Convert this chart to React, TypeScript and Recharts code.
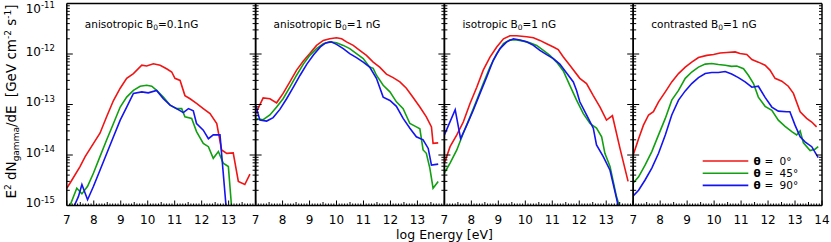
import { LineChart, Line, XAxis, YAxis, Legend } from "recharts";

type Pair = [number, number];

const W = 831;
const H = 242;
const PLOT_TOP = 3.5;
const PLOT_BOTTOM = 205.5;
const PANEL_W = 188.8;
const panelLeft = [66.8, 255.6, 444.4, 633.2];
const AX = 1; // axis box thickness
const FONT = "'DejaVu Sans', Verdana, sans-serif";

const panelTitles = ["anisotropic", "anisotropic", "isotropic", "contrasted"];
const panelB0 = ["0.1nG", "1 nG", "1 nG", "1 nG"];
const angleLabels = ["0", "45", "90"];
const lineColors = ["#f01414", "#12a012", "#1414f0"];

const xMajorTicks = [7, 8, 9, 10, 11, 12, 13, 14];
const yMajorTicks = [1e-15, 1e-14, 1e-13, 1e-12, 1e-11];
const yTickExponents = ["-15", "-14", "-13", "-12", "-11"];

// anisotropic B0 = 0.1 nG
const anisoLowRed: Pair[] = [
  [7.0, 2.2e-15], [7.19, 3.2e-15], [7.49, 5.9e-15], [7.68, 9.3e-15], [7.99, 1.7e-14], [8.23, 2.7e-14],
  [8.48, 5.8e-14], [8.73, 1.2e-13], [8.98, 2.1e-13], [9.22, 3.3e-13], [9.47, 4.1e-13], [9.78, 6.0e-13],
  [9.96, 5.8e-13], [10.21, 6.4e-13], [10.46, 6.0e-13], [10.7, 5.1e-13], [10.89, 4.4e-13], [11.01, 3.3e-13],
  [11.2, 3.0e-13], [11.38, 1.5e-13], [11.57, 1.3e-13], [11.81, 1.05e-13], [12.06, 8.3e-14], [12.31, 6.6e-14],
  [12.56, 4.2e-14], [12.74, 1.26e-14], [12.93, 1.08e-14], [13.17, 1.1e-14], [13.36, 3.0e-15], [13.6, 2.6e-15],
  [13.79, 4.2e-15],
];
const anisoLowGreen: Pair[] = [
  [7.05, 6e-16], [7.12, 1.0e-15], [7.37, 2.2e-15], [7.56, 1.7e-15], [7.77, 2.4e-15], [7.99, 4.4e-15],
  [8.23, 9.3e-15], [8.48, 2.0e-14], [8.73, 4.2e-14], [8.98, 8.9e-14], [9.22, 1.4e-13], [9.47, 1.9e-13],
  [9.72, 2.3e-13], [9.96, 2.4e-13], [10.15, 2.3e-13], [10.33, 1.9e-13], [10.58, 1.4e-13], [10.83, 9.7e-14],
  [11.07, 8.3e-14], [11.26, 8.3e-14], [11.38, 5.7e-14], [11.63, 5.3e-14], [11.81, 2.9e-14], [12.06, 1.7e-14],
  [12.25, 1.46e-14], [12.43, 8.6e-15], [12.62, 1.17e-14], [12.8, 6.9e-15], [12.99, 5.9e-15], [13.15, 5e-16],
];
const anisoLowBlue: Pair[] = [
  [7.2, 8e-16], [7.43, 1.5e-15], [7.56, 2.6e-15], [7.77, 1.3e-15], [7.99, 2.4e-15], [8.23, 5.0e-15],
  [8.48, 1.07e-14], [8.73, 2.3e-14], [8.98, 4.9e-14], [9.22, 8.9e-14], [9.47, 1.66e-13], [9.78, 1.78e-13],
  [10.02, 1.7e-13], [10.33, 1.9e-13], [10.58, 1.3e-13], [10.83, 9.7e-14], [11.07, 8.3e-14], [11.32, 6.9e-14],
  [11.51, 8.3e-14], [11.69, 7.5e-14], [11.81, 4.2e-14], [12.06, 3.1e-14], [12.25, 2.1e-14], [12.43, 2.5e-14],
  [12.68, 2.5e-14], [12.95, 5e-16],
];

// anisotropic B0 = 1 nG
const anisoRed: Pair[] = [
  [7.0, 6.6e-14], [7.28, 1.35e-13], [7.53, 1.3e-13], [7.78, 1.08e-13], [8.02, 1.66e-13], [8.27, 2.8e-13],
  [8.52, 4.8e-13], [8.77, 7.3e-13], [9.01, 1.02e-12], [9.26, 1.48e-12], [9.51, 1.86e-12], [9.75, 2.0e-12],
  [10.0, 2.09e-12], [10.19, 2.0e-12], [10.37, 1.74e-12], [10.62, 1.48e-12], [10.86, 1.18e-12], [11.11, 9.4e-13],
  [11.36, 6.9e-13], [11.6, 5.5e-13], [11.85, 4.0e-13], [12.1, 3.4e-13], [12.35, 2.8e-13], [12.59, 2.1e-13],
  [12.84, 1.38e-13], [13.09, 8.9e-14], [13.33, 5.7e-14], [13.52, 3.6e-14], [13.58, 1.7e-14], [13.77, 1.74e-14],
];
const anisoGreen: Pair[] = [
  [7.0, 5.3e-14], [7.28, 5.0e-14], [7.53, 6.2e-14], [7.78, 8.9e-14], [8.02, 1.3e-13], [8.27, 2.2e-13],
  [8.52, 3.8e-13], [8.77, 6.3e-13], [9.01, 9.4e-13], [9.26, 1.28e-12], [9.51, 1.6e-12], [9.75, 1.74e-12],
  [10.0, 1.67e-12], [10.25, 1.48e-12], [10.49, 1.28e-12], [10.74, 1.02e-12], [10.99, 8.1e-13], [11.23, 5.5e-13],
  [11.36, 5.2e-13], [11.48, 3.8e-13], [11.73, 2.4e-13], [11.98, 1.78e-13], [12.22, 1.13e-13], [12.47, 8.3e-14],
  [12.72, 4.2e-14], [12.96, 3.6e-14], [13.09, 3.3e-14], [13.21, 1.26e-14], [13.33, 1.08e-14], [13.46, 5.5e-15],
  [13.58, 2.2e-15], [13.77, 3.0e-15],
];
const anisoBlue: Pair[] = [
  [7.0, 9.7e-14], [7.16, 4.9e-14], [7.41, 4.7e-14], [7.65, 5.5e-14], [7.9, 8.0e-14], [8.15, 1.3e-13],
  [8.4, 2.2e-13], [8.65, 3.8e-13], [8.9, 6.3e-13], [9.15, 9.7e-13], [9.4, 1.38e-12], [9.6, 1.66e-12],
  [9.8, 1.74e-12], [10.0, 1.55e-12], [10.25, 1.28e-12], [10.49, 1.02e-12], [10.74, 8.5e-13], [10.99, 6.9e-13],
  [11.23, 5.5e-13], [11.48, 3.3e-13], [11.73, 1.4e-13], [11.98, 1.2e-13], [12.22, 9.2e-14], [12.47, 5.3e-14],
  [12.72, 3.4e-14], [12.96, 2.3e-14], [13.21, 2.0e-14], [13.4, 1.35e-14], [13.52, 6.3e-15], [13.77, 6.6e-15],
];

// isotropic B0 = 1 nG
const isoRed: Pair[] = [
  [7.0, 6.9e-15], [7.21, 1.46e-14], [7.46, 2.5e-14], [7.7, 4.5e-14], [7.95, 1.05e-13], [8.2, 2.2e-13],
  [8.44, 4.8e-13], [8.69, 8.7e-13], [8.94, 1.38e-12], [9.19, 2.0e-12], [9.43, 2.3e-12], [9.68, 2.3e-12],
  [10.05, 2.2e-12], [10.3, 2.1e-12], [10.54, 1.86e-12], [10.79, 1.6e-12], [11.04, 1.38e-12], [11.22, 1.22e-12],
  [11.41, 8.7e-13], [11.65, 6.0e-13], [12.02, 3.3e-13], [12.27, 2.6e-13], [12.52, 1.5e-13], [12.77, 8.9e-14],
  [13.01, 4.9e-14], [13.23, 6.0e-14], [13.51, 1.35e-14], [13.81, 3.0e-15],
];
const isoGreen: Pair[] = [
  [7.0, 4.4e-15], [7.21, 6.9e-15], [7.46, 1.26e-14], [7.7, 2.7e-14], [7.95, 5.7e-14], [8.2, 1.22e-13],
  [8.44, 2.6e-13], [8.69, 5.5e-13], [8.94, 1.02e-12], [9.19, 1.6e-12], [9.43, 1.9e-12], [9.68, 1.9e-12],
  [9.93, 1.8e-12], [10.17, 1.66e-12], [10.42, 1.48e-12], [10.67, 1.18e-12], [10.91, 9.4e-13], [11.16, 6.9e-13],
  [11.41, 4.6e-13], [11.65, 2.4e-13], [11.9, 1.22e-13], [12.15, 6.6e-14], [12.4, 4.2e-14], [12.64, 3.4e-14],
  [12.83, 2.3e-14], [12.95, 1.08e-14], [13.14, 5.9e-15], [13.38, 1.5e-15], [13.57, 7e-16],
];
const isoBlue: Pair[] = [
  [7.0, 2.5e-14], [7.4, 7.9e-14], [7.6, 2.1e-14], [7.83, 3.9e-14], [8.07, 7.7e-14], [8.32, 1.66e-13],
  [8.57, 3.5e-13], [8.81, 7.5e-13], [9.06, 1.28e-12], [9.31, 1.74e-12], [9.56, 2.0e-12], [9.8, 1.9e-12],
  [10.05, 1.74e-12], [10.3, 1.48e-12], [10.54, 1.18e-12], [10.79, 9.7e-13], [11.04, 8.1e-13], [11.28, 6.3e-13],
  [11.53, 4.2e-13], [11.78, 2.8e-13], [11.9, 1.9e-13], [12.02, 1.13e-13], [12.27, 6.2e-14], [12.52, 3.4e-14],
  [12.64, 1.58e-14], [12.89, 9.3e-15], [13.14, 5.0e-15], [13.38, 1.4e-15], [13.5, 7e-16],
];

// contrasted B0 = 1 nG
const contrRed: Pair[] = [
  [7.0, 1.0e-14], [7.2, 2.1e-14], [7.38, 3.9e-14], [7.57, 6.2e-14], [7.75, 7.2e-14], [7.94, 1.13e-13],
  [8.19, 1.78e-13], [8.43, 2.8e-13], [8.68, 4.1e-13], [8.93, 5.5e-13], [9.17, 6.9e-13], [9.42, 8.5e-13],
  [9.73, 9.4e-13], [9.98, 9.8e-13], [10.22, 1.05e-12], [10.47, 1.07e-12], [10.78, 1.1e-12], [10.96, 1.02e-12],
  [11.21, 9.8e-13], [11.4, 7.8e-13], [11.64, 6.9e-13], [11.89, 6.0e-13], [12.07, 4.8e-13], [12.26, 3.3e-13],
  [12.51, 2.9e-13], [12.75, 2.3e-13], [12.94, 1.66e-13], [13.19, 7.2e-14], [13.43, 5.3e-14], [13.62, 4.5e-14],
  [13.8, 3.6e-14],
];
const contrGreen: Pair[] = [
  [7.0, 2.8e-15], [7.2, 3.7e-15], [7.44, 6.3e-15], [7.69, 1.17e-14], [7.94, 2.5e-14], [8.19, 5.3e-14],
  [8.43, 1.22e-13], [8.68, 1.9e-13], [8.93, 3.3e-13], [9.17, 4.4e-13], [9.42, 5.5e-13], [9.67, 6.3e-13],
  [9.91, 6.5e-13], [10.16, 6.2e-13], [10.41, 6.0e-13], [10.65, 5.7e-13], [10.84, 5.8e-13], [11.09, 5.1e-13],
  [11.27, 3.8e-13], [11.46, 2.6e-13], [11.64, 1.4e-13], [11.89, 9.2e-14], [12.14, 7.7e-14], [12.38, 4.9e-14],
  [12.63, 3.7e-14], [12.88, 2.9e-14], [13.06, 2.5e-14], [13.19, 3.0e-14], [13.31, 1.74e-14], [13.56, 1.22e-14],
  [13.74, 1.3e-14], [13.86, 1.46e-14],
];
const contrBlue: Pair[] = [
  [7.0, 1.55e-15], [7.2, 2.0e-15], [7.44, 3.2e-15], [7.69, 5.5e-15], [7.94, 1.08e-14], [8.19, 2.5e-14],
  [8.43, 6.2e-14], [8.68, 1.22e-13], [8.93, 1.86e-13], [9.17, 2.6e-13], [9.42, 3.4e-13], [9.67, 4.1e-13],
  [9.91, 4.3e-13], [10.16, 4.3e-13], [10.41, 4.5e-13], [10.65, 4.0e-13], [10.9, 3.4e-13], [11.15, 2.8e-13],
  [11.4, 2.2e-13], [11.64, 2.3e-13], [11.89, 1.38e-13], [12.14, 8.9e-14], [12.38, 7.4e-14], [12.69, 7.2e-14],
  [12.81, 7.2e-14], [13.0, 3.9e-14], [13.19, 2.3e-14], [13.37, 1.82e-14], [13.62, 1.46e-14], [13.86, 8.9e-15],
];

const panelSeries: Pair[][][] = [
  [anisoLowRed, anisoLowGreen, anisoLowBlue],
  [anisoRed, anisoGreen, anisoBlue],
  [isoRed, isoGreen, isoBlue],
  [contrRed, contrGreen, contrBlue],
];

// tick positions: 0.1 steps on x, 1..9 x decade on y
const xAllTicks = Array.from({ length: 71 }, (_, i) => (70 + i) / 10);
const yAllTicks: number[] = [];
yMajorTicks.slice(0, -1).forEach((d) => {
  for (let m = 1; m <= 9; m++) yAllTicks.push(m === 1 ? d : m * d);
});
yAllTicks.push(yMajorTicks[yMajorTicks.length - 1]);

const toPoints = (s: Pair[]) => s.map(([x, y]) => ({ x, y }));
const axisStyle = { stroke: "#000", strokeWidth: 1.5 };

function makeXTick(side: "bottom" | "top", labelMax: number) {
  return (props: any) => {
    const { x, payload } = props;
    const v = payload.value as number;
    const major = Math.abs(v - Math.round(v)) < 1e-6;
    const half = !major && Math.abs(v * 2 - Math.round(v * 2)) < 1e-6;
    const len = major ? 5 : half ? 3.5 : 2;
    const y0 = side === "bottom" ? PLOT_BOTTOM : PLOT_TOP;
    const dir = side === "bottom" ? -1 : 1;
    const showLabel = side === "bottom" && major && xMajorTicks.includes(Math.round(v)) && v <= labelMax;
    return (
      <g>
        <line x1={x} y1={y0} x2={x} y2={y0 + dir * len} stroke="#000" strokeWidth={1} />
        {showLabel && (
          <text x={x} y={y0 + 18} textAnchor="middle" fontSize={12} fill="#000" fontFamily={FONT}>
            {Math.round(v)}
          </text>
        )}
      </g>
    );
  };
}

function makeYTick(side: "left" | "right", x0: number, withLabels: boolean) {
  return (props: any) => {
    const { y, payload } = props;
    const idx = yMajorTicks.indexOf(payload.value);
    const major = idx >= 0;
    const len = major ? 6 : 3;
    const dir = side === "left" ? 1 : -1;
    const base = Math.max(y + 1.5, 12.5);
    return (
      <g>
        <line x1={x0} y1={y} x2={x0 + dir * len} y2={y} stroke="#000" strokeWidth={1} />
        {withLabels && major && (
          <text x={x0 - 12} y={base} textAnchor="end" fontSize={12} fill="#000" fontFamily={FONT}>
            10
            <tspan dy={-4.5} fontSize={8.5}>
              {yTickExponents[idx]}
            </tspan>
          </text>
        )}
      </g>
    );
  };
}

function LegendBox({ payload }: any) {
  return (
    <svg width={110} height={42} style={{ display: "block" }}>
      {(payload || []).map((entry: any, i: number) => {
        const cy = 8 + i * 12.2;
        return (
          <g key={i}>
            <line x1={2.7} x2={48.3} y1={cy} y2={cy} stroke={entry.color} strokeWidth={1.6} />
            <text y={cy + 4} fontSize={10.5} fill="#000" fontFamily={FONT}>
              <tspan x={53.5} fontWeight="bold">θ</tspan>
              <tspan x={64.5}>=</tspan>
              <tspan x={79.5}>{angleLabels[i]}°</tspan>
            </text>
          </g>
        );
      })}
    </svg>
  );
}

function Panel({ index }: { index: number }) {
  const left = panelLeft[index];
  const right = left + PANEL_W;
  const last = index === panelLeft.length - 1;
  return (
    <div style={{ position: "absolute", left: 0, top: 0 }}>
      <LineChart
        width={W}
        height={H}
        margin={{
          top: PLOT_TOP - AX,
          bottom: H - PLOT_BOTTOM - AX,
          left: left - AX,
          right: W - right - AX,
        }}
      >
        <XAxis
          xAxisId="b"
          type="number"
          dataKey="x"
          domain={[7, 14]}
          allowDataOverflow
          ticks={xAllTicks}
          interval={0}
          height={AX}
          tickSize={0}
          tickMargin={0}
          tickLine={false}
          axisLine={axisStyle}
          tick={makeXTick("bottom", last ? 14 : 13)}
        />
        <XAxis
          xAxisId="t"
          orientation="top"
          type="number"
          domain={[7, 14]}
          allowDataOverflow
          ticks={xAllTicks}
          interval={0}
          height={AX}
          tickSize={0}
          tickMargin={0}
          tickLine={false}
          axisLine={axisStyle}
          tick={makeXTick("top", 0)}
        />
        <YAxis
          yAxisId="l"
          scale="log"
          type="number"
          domain={[1e-15, 1e-11]}
          allowDataOverflow
          ticks={yAllTicks}
          interval={0}
          width={AX}
          tickSize={0}
          tickMargin={0}
          tickLine={false}
          axisLine={axisStyle}
          tick={makeYTick("left", left, index === 0)}
        />
        <YAxis
          yAxisId="r"
          orientation="right"
          scale="log"
          type="number"
          domain={[1e-15, 1e-11]}
          allowDataOverflow
          ticks={yAllTicks}
          interval={0}
          width={AX}
          tickSize={0}
          tickMargin={0}
          tickLine={false}
          axisLine={axisStyle}
          tick={makeYTick("right", right, false)}
        />
        {panelSeries[index].map((s, i) => (
          <Line
            key={i}
            xAxisId="b"
            yAxisId="l"
            data={toPoints(s)}
            dataKey="y"
            name={`θ = ${angleLabels[i]}°`}
            type="linear"
            stroke={lineColors[i]}
            strokeWidth={1.6}
            dot={false}
            activeDot={false}
            isAnimationActive={false}
          />
        ))}
        {last && (
          <Legend
            layout="vertical"
            align="center"
            verticalAlign="middle"
            content={<LegendBox />}
            wrapperStyle={{ left: 700, top: 153, width: 110, height: 42 }}
          />
        )}
      </LineChart>
    </div>
  );
}

export default function App() {
  return (
    <div
      style={{
        position: "absolute",
        left: 0,
        top: 0,
        width: W,
        height: H,
        background: "#fff",
        fontFamily: FONT,
      }}
    >
      {panelLeft.map((_, i) => (
        <Panel key={i} index={i} />
      ))}
      <svg
        width={W}
        height={H}
        style={{ position: "absolute", left: 0, top: 0, pointerEvents: "none" }}
        fontFamily={FONT}
      >
        {panelTitles.map((t, i) => (
          <text key={i} x={panelLeft[i] + 18} y={27.5} fontSize={10.5} fill="#000">
            {t} B
            <tspan dy={2.5} fontSize={7.5}>
              0
            </tspan>
            <tspan dy={-2.5}>={panelB0[i]}</tspan>
          </text>
        ))}
        <text x={444.5} y={238.5} textAnchor="middle" fontSize={12.5} fill="#000">
          log Energy [eV]
        </text>
        <text transform="translate(16,101.5) rotate(-90)" textAnchor="middle" fontSize={13.5} fill="#000">
          E
          <tspan dy={-5} fontSize={9}>
            2
          </tspan>
          <tspan dy={5}> dN</tspan>
          <tspan dy={3} fontSize={9}>
            gamma
          </tspan>
          <tspan dy={-3}>/dE </tspan>
          <tspan dx={4}>[GeV cm</tspan>
          <tspan dy={-5} fontSize={9}>
            -2
          </tspan>
          <tspan dy={5}> s</tspan>
          <tspan dy={-5} fontSize={9}>
            -1
          </tspan>
          <tspan dy={5}>]</tspan>
        </text>
      </svg>
    </div>
  );
}
